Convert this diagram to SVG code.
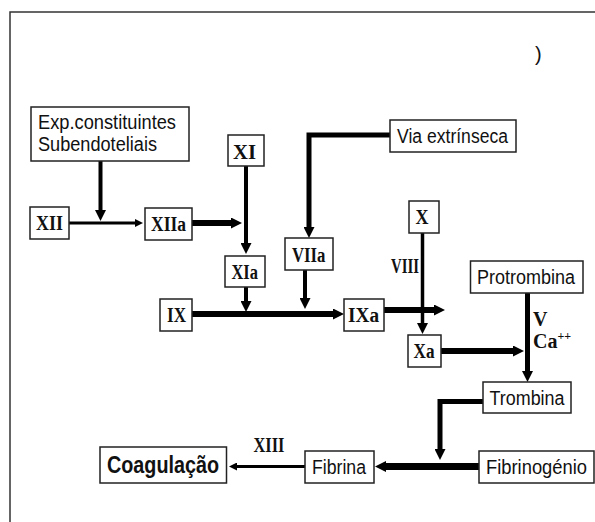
<svg xmlns="http://www.w3.org/2000/svg" width="595" height="522" viewBox="0 0 595 522">
<defs>
<marker id="ah" markerUnits="userSpaceOnUse" markerWidth="11" markerHeight="11" viewBox="0 0 10 10" refX="0" refY="5" orient="auto"><path d="M0,0 L10,5 L0,10 z" fill="#000"/></marker>
<marker id="ahs" markerUnits="userSpaceOnUse" markerWidth="9" markerHeight="8" viewBox="0 0 10 10" refX="0" refY="5" orient="auto"><path d="M0,0 L10,5 L0,10 z" fill="#000"/></marker>
</defs>
<style>
.box{fill:#fff;stroke:#222;stroke-width:1.5}
.s{font-family:"Liberation Sans",Arial,sans-serif;font-size:20px;fill:#111}
.b{font-weight:bold;font-size:23px}
.r{font-family:"Liberation Serif","Times New Roman",serif;font-weight:bold;font-size:20px;fill:#111}
.c{fill:none;stroke:#000;stroke-linejoin:miter}
.frame{fill:none;stroke:#333;stroke-width:1.5}
</style>
<rect width="595" height="522" fill="#fff"/>
<path class="frame" d="M10,522 V12 H595"/>
<text x="535" y="61" class="s" font-size="14">)</text>

<g id="connectors">
<path class="c" stroke-width="4" d="M100.5,161 V210" marker-end="url(#ah)"/>
<path class="c" stroke-width="3" d="M69,223 H135" marker-end="url(#ahs)"/>
<path class="c" stroke-width="6" d="M192,223 H231" marker-end="url(#ah)"/>
<path class="c" stroke-width="4" d="M246,166 V243" marker-end="url(#ah)"/>
<path class="c" stroke-width="5" d="M390,135 H309 V227" marker-end="url(#ah)"/>
<path class="c" stroke-width="4" d="M246,287 V301" marker-end="url(#ah)"/>
<path class="c" stroke-width="4" d="M305,270 V298" marker-end="url(#ah)"/>
<path class="c" stroke-width="6" d="M192,314 H333" marker-end="url(#ah)"/>
<path class="c" stroke-width="6" d="M384,310 H434" marker-end="url(#ah)"/>
<path class="c" stroke-width="3.5" d="M422.5,233 V323" marker-end="url(#ah)"/>
<path class="c" stroke-width="6" d="M441,351 H513" marker-end="url(#ah)"/>
<path class="c" stroke-width="5" d="M527.5,293 V371" marker-end="url(#ah)"/>
<path class="c" stroke-width="5" d="M483,401.5 H440 V449" marker-end="url(#ah)"/>
<path class="c" stroke-width="7" d="M479,466.5 H386" marker-end="url(#ah)"/>
<path class="c" stroke-width="3" d="M305,466.5 H237" marker-end="url(#ahs)"/>
</g>

<g id="labels">
<text class="r" x="391" y="273" textLength="28" lengthAdjust="spacingAndGlyphs">VIII</text>
<text class="r" x="533" y="326">V</text>
<text class="r" x="533" y="348">Ca<tspan font-size="12" dy="-8">++</tspan></text>
<text class="r" x="253.5" y="452" textLength="31" lengthAdjust="spacingAndGlyphs">XIII</text>
</g>

<g id="exp"><rect class="box" x="31" y="107" width="158" height="54"/>
<text class="s" x="38" y="129" textLength="138" lengthAdjust="spacingAndGlyphs">Exp.constituintes</text>
<text class="s" x="38" y="151" textLength="119" lengthAdjust="spacingAndGlyphs">Subendoteliais</text></g>
<g id="xi"><rect class="box" x="228" y="135" width="36" height="31"/><text class="r" x="233" y="159" textLength="23" lengthAdjust="spacingAndGlyphs">XI</text></g>
<g id="via"><rect class="box" x="390" y="120" width="126" height="32"/><text class="s" x="397" y="143" textLength="111" lengthAdjust="spacingAndGlyphs">Via extrínseca</text></g>
<g id="xii"><rect class="box" x="30" y="207" width="39" height="32"/><text class="r" x="36" y="230" textLength="27" lengthAdjust="spacingAndGlyphs">XII</text></g>
<g id="xiia"><rect class="box" x="145" y="208" width="47" height="32"/><text class="r" x="151" y="231" textLength="35" lengthAdjust="spacingAndGlyphs">XIIa</text></g>
<g id="xia"><rect class="box" x="225" y="256" width="40" height="31"/><text class="r" x="231.5" y="279" textLength="26.5" lengthAdjust="spacingAndGlyphs">XIa</text></g>
<g id="viia"><rect class="box" x="285" y="238" width="48" height="32"/><text class="r" x="292" y="262" textLength="33.5" lengthAdjust="spacingAndGlyphs">VIIa</text></g>
<g id="x"><rect class="box" x="409" y="201" width="30" height="32"/><text class="r" x="415.5" y="224" textLength="13" lengthAdjust="spacingAndGlyphs">X</text></g>
<g id="xa"><rect class="box" x="408" y="335" width="33" height="32"/><text class="r" x="413.5" y="358" textLength="21" lengthAdjust="spacingAndGlyphs">Xa</text></g>
<g id="protrombina"><rect class="box" x="470.5" y="261" width="112.5" height="32"/><text class="s" x="477" y="284" textLength="98" lengthAdjust="spacingAndGlyphs">Protrombina</text></g>
<g id="ix"><rect class="box" x="160" y="299" width="32" height="32"/><text class="r" x="167" y="322" textLength="19" lengthAdjust="spacingAndGlyphs">IX</text></g>
<g id="ixa"><rect class="box" x="344" y="299" width="40" height="32"/><text class="r" x="348" y="322" textLength="31" lengthAdjust="spacingAndGlyphs">IXa</text></g>
<g id="trombina"><rect class="box" x="483" y="382" width="88" height="31"/><text class="s" x="489.5" y="405" textLength="75" lengthAdjust="spacingAndGlyphs">Trombina</text></g>
<g id="coagulacao"><rect class="box" x="100" y="447" width="126.5" height="36"/><text class="s b" x="107" y="473" textLength="112" lengthAdjust="spacingAndGlyphs">Coagulação</text></g>
<g id="fibrina"><rect class="box" x="305" y="451" width="69" height="32"/><text class="s" x="312" y="474" textLength="54" lengthAdjust="spacingAndGlyphs">Fibrina</text></g>
<g id="fibrinogenio"><rect class="box" x="479" y="451" width="115" height="32"/><text class="s" x="486" y="474" textLength="101" lengthAdjust="spacingAndGlyphs">Fibrinogénio</text></g>
</svg>
